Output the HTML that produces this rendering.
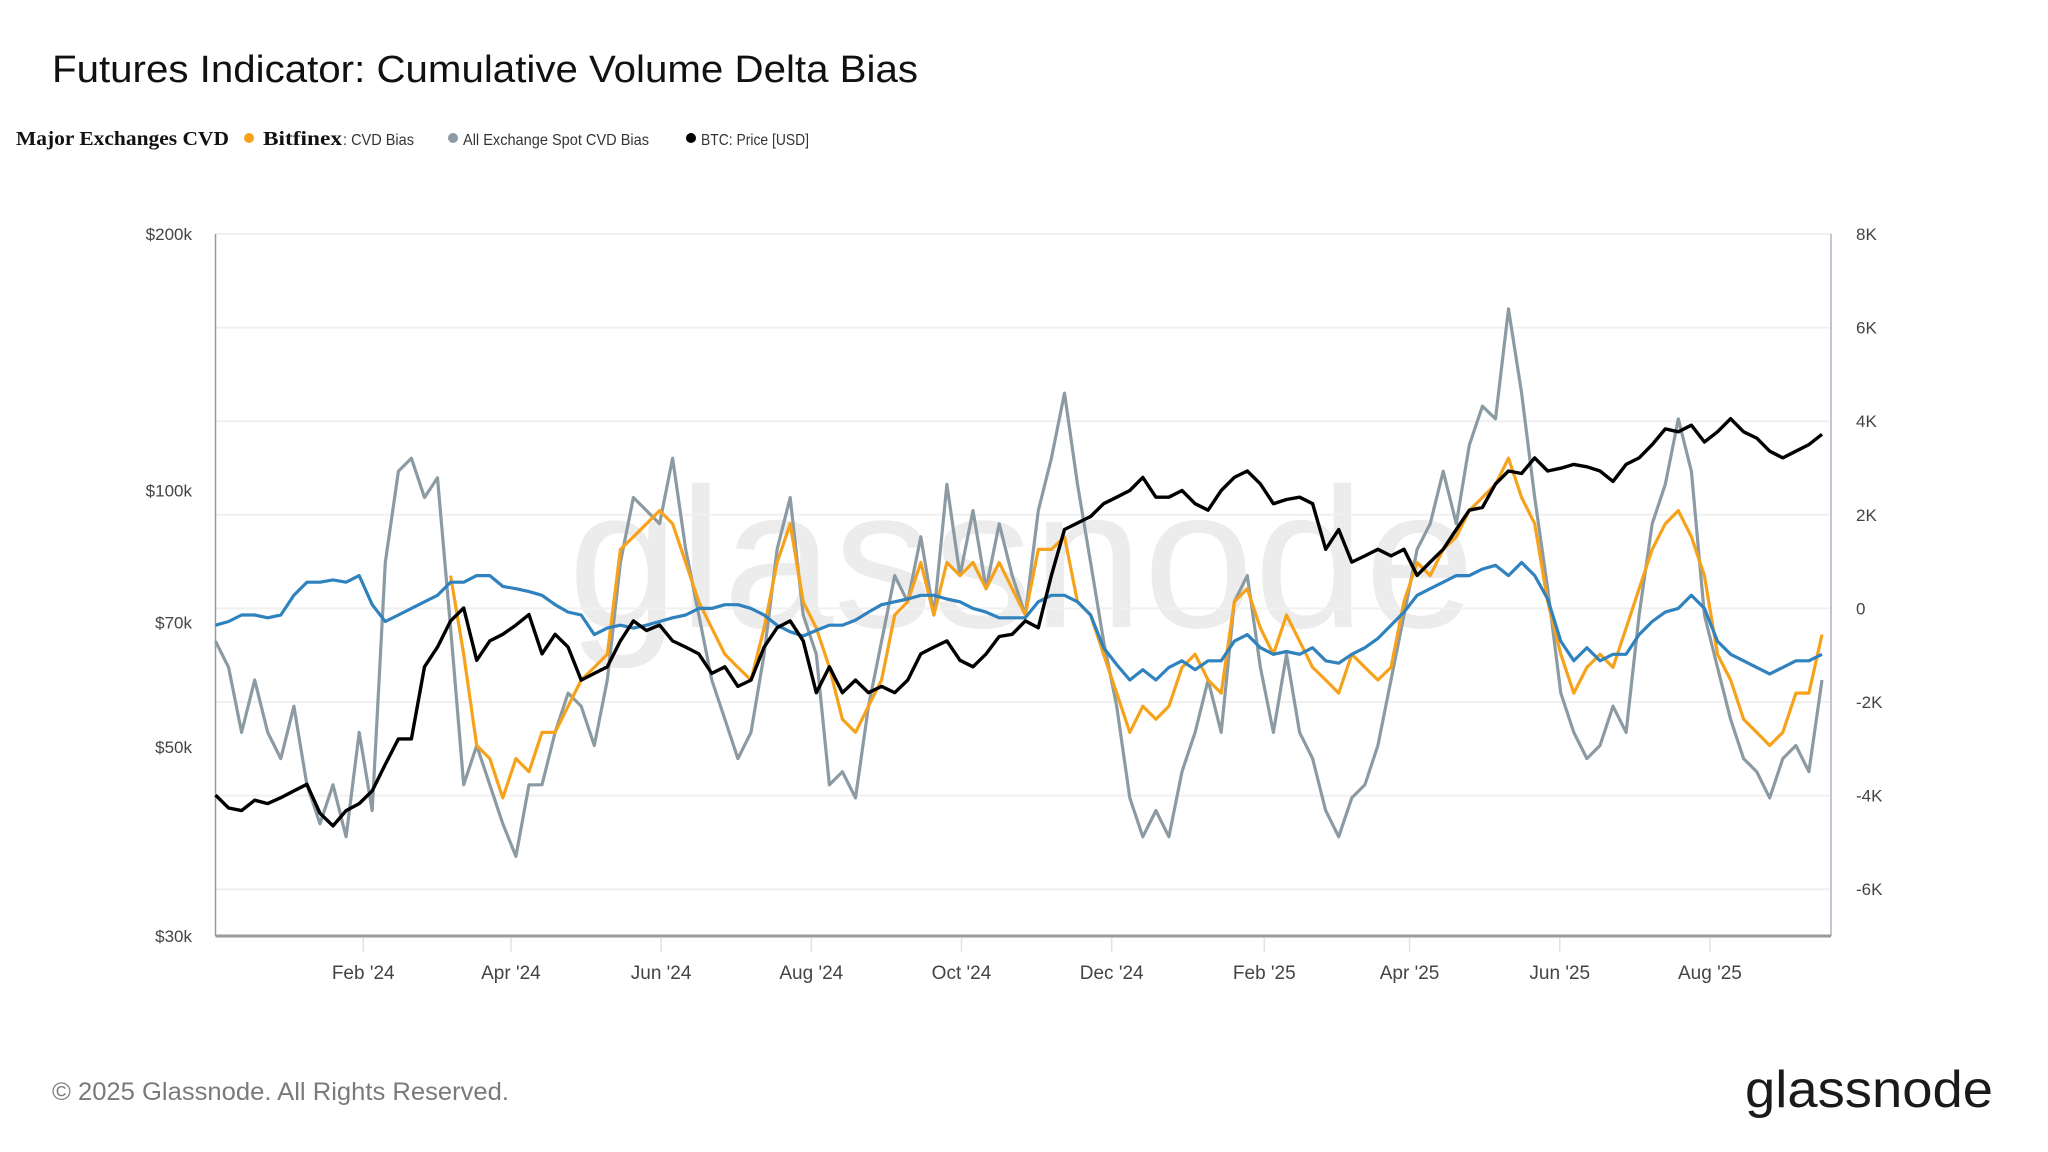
<!DOCTYPE html>
<html><head><meta charset="utf-8"><style>
html,body{margin:0;padding:0;background:#fff;}
svg{display:block;font-family:"Liberation Sans",sans-serif;}
</style></head><body>
<svg id="chart" width="2048" height="1152" viewBox="0 0 2048 1152" xmlns="http://www.w3.org/2000/svg">
<rect x="0" y="0" width="2048" height="1152" fill="#fff"/>
<text x="52" y="82" font-size="38" fill="#111" textLength="866" lengthAdjust="spacingAndGlyphs">Futures Indicator: Cumulative Volume Delta Bias</text>
<g>
<text x="16" y="145" font-family="'Liberation Serif',serif" font-weight="bold" font-size="20" fill="#111" textLength="213" lengthAdjust="spacingAndGlyphs">Major Exchanges CVD</text>
<g>
<circle cx="249" cy="138" r="5" fill="#f7a21b"/>
<text x="263" y="145" font-family="'Liberation Serif',serif" font-weight="bold" font-size="20" fill="#111" textLength="79" lengthAdjust="spacingAndGlyphs">Bitfinex</text>
<text x="343" y="145" font-size="16" fill="#333" textLength="71" lengthAdjust="spacingAndGlyphs">: CVD Bias</text>
</g>
<g>
<circle cx="453" cy="138" r="5" fill="#8c9ba3"/>
<text x="463" y="145" font-size="16" fill="#333" textLength="186" lengthAdjust="spacingAndGlyphs">All Exchange Spot CVD Bias</text>
</g>
<g>
<circle cx="691" cy="138" r="5" fill="#000"/>
<text x="701" y="145" font-size="16" fill="#333" textLength="108" lengthAdjust="spacingAndGlyphs">BTC: Price [USD]</text>
</g>
</g>
<text x="568" y="627" font-size="199" fill="#ececec">glassnode</text>
<g id="grid"></g>
<g id="axes"></g>
<g id="series"></g>
<text x="52" y="1100" font-size="25" fill="#7a7a7a" textLength="457" lengthAdjust="spacingAndGlyphs">© 2025 Glassnode. All Rights Reserved.</text>
<text x="1745" y="1107" font-size="52" fill="#1a1a1a" textLength="248" lengthAdjust="spacingAndGlyphs">glassnode</text>
</svg>
<script>
const startDate = "2023-12-03";
const stepDays = 5.305;
const leftTickValues = [200000, 100000, 70000, 50000, 30000];
const leftTickLabels = ["$200k", "$100k", "$70k", "$50k", "$30k"];
const rightTickValues = [8000, 6000, 4000, 2000, 0, -2000, -4000, -6000];
const rightTickLabels = ["8K", "6K", "4K", "2K", "0", "-2K", "-4K", "-6K"];
const xTickDates = ["2024-02-01","2024-04-01","2024-06-01","2024-08-01","2024-10-01","2024-12-01","2025-02-01","2025-04-01","2025-06-01","2025-08-01"];
const xTickLabels = ["Feb '24","Apr '24","Jun '24","Aug '24","Oct '24","Dec '24","Feb '25","Apr '25","Jun '25","Aug '25"];

const spotCvd = [-700,-1260,-2650,-1530,-2650,-3210,-2090,-3770,-4600,-3770,-4880,-2650,-4320,980,2930,3210,2370,2790,-420,-3770,-2930,-3770,-4600,-5300,-3770,-3770,-2650,-1810,-2090,-2930,-1530,980,2370,2090,1810,3210,1260,-140,-1530,-2370,-3210,-2650,-980,1260,2370,-140,-980,-3770,-3490,-4050,-2090,-700,700,140,1530,-140,2650,700,2090,420,1810,700,-140,2090,3210,4600,2650,980,-700,-2090,-4050,-4880,-4320,-4880,-3490,-2650,-1530,-2650,140,700,-1260,-2650,-980,-2650,-3210,-4320,-4880,-4050,-3770,-2930,-1530,-140,1260,1810,2930,1810,3490,4320,4050,6400,4600,2370,420,-1810,-2650,-3210,-2930,-2090,-2650,-140,1810,2650,4050,2930,-140,-1260,-2370,-3210,-3490,-4050,-3210,-2930,-3490,-1530];
const bitfinexCvd = [null,null,null,null,null,null,null,null,null,null,null,null,null,null,null,null,null,null,700,-980,-2930,-3210,-4050,-3210,-3490,-2650,-2650,-2090,-1530,-1260,-980,1260,1530,1810,2090,1810,980,140,-420,-980,-1260,-1530,-420,980,1810,140,-420,-1260,-2370,-2650,-2090,-1530,-140,140,980,-140,980,700,980,420,980,420,-140,1260,1260,1530,140,-140,-980,-1810,-2650,-2090,-2370,-2090,-1260,-980,-1530,-1810,140,420,-420,-980,-140,-700,-1260,-1530,-1810,-980,-1260,-1530,-1260,140,980,700,1260,1530,2090,2370,2650,3210,2370,1810,140,-980,-1810,-1260,-980,-1260,-420,420,1260,1810,2090,1530,700,-980,-1530,-2370,-2650,-2930,-2650,-1810,-1810,-560];
const majorCvd = [-360,-280,-140,-140,-200,-140,280,560,560,610,560,700,80,-280,-140,0,140,280,560,560,700,700,470,420,360,280,80,-80,-140,-560,-420,-360,-420,-360,-280,-200,-140,0,0,80,80,0,-140,-360,-500,-590,-470,-360,-360,-250,-80,80,140,200,280,280,200,140,0,-80,-200,-200,-200,140,280,280,140,-140,-840,-1200,-1530,-1310,-1530,-1260,-1120,-1310,-1120,-1120,-700,-560,-840,-980,-920,-980,-840,-1120,-1170,-980,-840,-640,-360,-80,280,420,560,700,700,840,920,700,980,700,200,-700,-1120,-840,-1120,-980,-980,-560,-280,-80,0,280,0,-700,-980,-1120,-1260,-1400,-1260,-1120,-1120,-980];
const btcPrice = [43900,42400,42100,43300,42900,43600,44400,45200,41800,40400,42100,42900,44400,47700,51100,51100,62100,65500,70300,72800,63200,66600,67800,69500,71500,64300,67800,65500,59900,61000,62100,66600,70300,68500,69500,66600,65500,64300,61000,62100,58900,59900,65500,69000,70300,66600,57900,62100,57900,59900,57900,58900,57900,59900,64300,65500,66600,63200,62100,64300,67400,67800,70300,69000,79500,90000,91600,93200,96500,98200,100000,103600,98200,98200,100000,96500,94800,100000,103600,105400,101800,96500,97600,98200,96500,85300,90000,82400,83800,85300,83800,85300,79500,82400,85300,90000,94800,95500,101800,105400,104700,109200,105400,106200,107300,106600,105400,102500,107300,109200,113200,118100,117200,119300,114000,117200,121400,117200,115200,111200,109200,111200,113200,116400];

const NS = "http://www.w3.org/2000/svg";
const L = 215.5, R = 1831, T = 234, B = 936;
const pxPerDay = 2.462;
const t0 = Date.parse(startDate + "T00:00:00Z");
function xDay(d){ return L + d * pxPerDay; }
function xDate(s){ return xDay((Date.parse(s + "T00:00:00Z") - t0) / 86400000); }
function xIndex(i){ return xDay(i * stepDays); }
const lMin = Math.log10(30000), lMax = Math.log10(200000);
function yLeft(v){ return B - (Math.log10(v) - lMin) / (lMax - lMin) * (B - T); }
function yRight(v){ return B - (v + 7000) / 15000 * (B - T); }
function mk(tag, attrs, parent){ const e = document.createElementNS(NS, tag); for (const k in attrs) e.setAttribute(k, attrs[k]); parent.appendChild(e); return e; }

const grid = document.getElementById('grid');
const axes = document.getElementById('axes');
const series = document.getElementById('series');

rightTickValues.forEach((v, i) => {
  const y = yRight(v);
  const g = mk('line', {x1: L, x2: R, y1: y, y2: y, stroke: '#f0f0f0', 'stroke-width': 2}, grid);
  
  
  const t = mk('text', {x: 1856, y: y + 6, 'font-size': 17, fill: '#444'}, axes);
  t.textContent = rightTickLabels[i];
  
  
});
leftTickValues.forEach((v, i) => {
  const y = yLeft(v);
  const t = mk('text', {x: 192, y: y + 6, 'font-size': 17, fill: '#444', 'text-anchor': 'end'}, axes);
  t.textContent = leftTickLabels[i];
  
  
});
xTickDates.forEach((d, i) => {
  const x = xDate(d);
  const tk = mk('line', {x1: x, x2: x, y1: B + 2, y2: B + 16, stroke: '#e2e2e2', 'stroke-width': 1.5}, axes);
  
  
  const t = mk('text', {x: x, y: 979, 'font-size': 19, fill: '#444', 'text-anchor': 'middle'}, axes);
  t.textContent = xTickLabels[i];
  
  
});
const la = mk('line', {x1: L, x2: L, y1: T, y2: B, stroke: '#9a9a9a', 'stroke-width': 1.5}, axes);


const ra = mk('line', {x1: R, x2: R, y1: T, y2: B, stroke: '#a9b6c4', 'stroke-width': 1.5}, axes);


const xa = mk('line', {x1: L, x2: R, y1: B, y2: B, stroke: '#9a9a9a', 'stroke-width': 3}, axes);



function pathFrom(arr, yf){
  let d = '', pen = false;
  arr.forEach((v, i) => {
    if (v === null) { pen = false; return; }
    d += (pen ? 'L' : 'M') + xIndex(i).toFixed(1) + ' ' + yf(v).toFixed(1);
    pen = true;
  });
  return d;
}
const p1 = mk('path', {d: pathFrom(spotCvd, yRight), fill: 'none', stroke: '#8c9ba3', 'stroke-width': 3.2, 'stroke-linejoin': 'round'}, series);


const p2 = mk('path', {d: pathFrom(bitfinexCvd, yRight), fill: 'none', stroke: '#f7a21b', 'stroke-width': 3.2, 'stroke-linejoin': 'round'}, series);


const p3 = mk('path', {d: pathFrom(majorCvd, yRight), fill: 'none', stroke: '#2f82bd', 'stroke-width': 3.2, 'stroke-linejoin': 'round'}, series);


const p4 = mk('path', {d: pathFrom(btcPrice, yLeft), fill: 'none', stroke: '#000', 'stroke-width': 3.4, 'stroke-linejoin': 'round'}, series);


</script>
</body></html>
